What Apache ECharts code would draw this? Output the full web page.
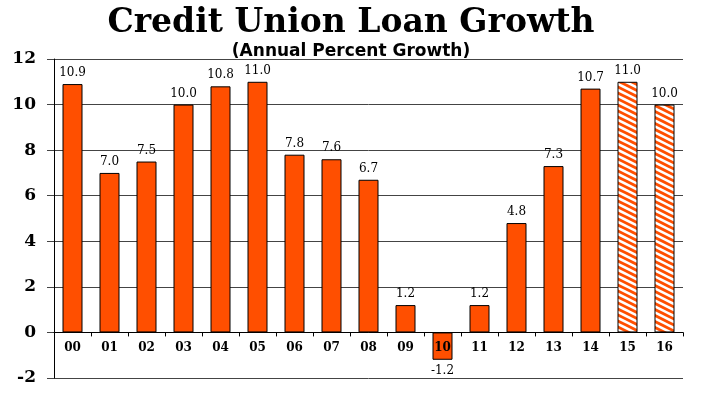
<!DOCTYPE html>
<html>
<head>
<meta charset="utf-8">
<script src="https://cdn.jsdelivr.net/npm/echarts@6/dist/echarts.min.js"></script>
<style>html,body{margin:0;padding:0;background:#fff}#c{width:702px;height:395px}</style>
</head>
<body>
<div id="c"></div>
<script>
var categories = ['00','01','02','03','04','05','06','07','08','09','10','11','12','13','14','15','16'];
var values = [10.9, 7.0, 7.5, 10.0, 10.8, 11.0, 7.8, 7.6, 6.7, 1.2, -1.2, 1.2, 4.8, 7.3, 10.7, 11.0, 10.0];
var forecast = [false,false,false,false,false,false,false,false,false,false,false,false,false,false,false,true,true];
var yTicks = [-2, 0, 2, 4, 6, 8, 10, 12];

var ORANGE = '#ff4f00';

function makePattern() {
  var w = 24, h = 12;
  var c = document.createElement('canvas');
  c.width = w; c.height = h;
  var g = c.getContext('2d');
  g.fillStyle = '#fff';
  g.fillRect(0, 0, w, h);
  g.strokeStyle = ORANGE;
  g.lineWidth = 2.9;
  for (var k = -24; k <= 24; k += 6) {
    g.beginPath();
    g.moveTo(-w, k - h);
    g.lineTo(2 * w, k + 2 * h);
    g.stroke();
  }
  return c;
}
var pat = { image: makePattern(), repeat: 'repeat' };

var data = values.map(function (v, i) {
  return {
    value: v,
    itemStyle: { color: forecast[i] ? pat : ORANGE },
    label: { position: v < 0 ? 'bottom' : 'top' }
  };
});

var chart = echarts.init(document.getElementById('c'), null, { renderer: 'canvas' });
var option = {
  animation: false,
  backgroundColor: '#fff',
  title: [{
    text: 'Credit Union Loan Growth',
    left: 'center', top: 2,
    textStyle: { fontFamily: 'DejaVu Serif', fontWeight: 'bold', fontSize: 33, color: '#000' }
  }, {
    text: '(Annual Percent Growth)',
    left: 'center', top: 38,
    textStyle: { fontFamily: 'DejaVu Sans', fontWeight: 'bold', fontSize: 17, color: '#000' }
  }],
  grid: { left: 54, right: 19, top: 59, bottom: 17, containLabel: false, outerBoundsMode: 'none' },
  xAxis: {
    type: 'category',
    data: categories,
    offset: 0,
    z: 5,
    axisLine: { onZero: false, lineStyle: { color: '#000', width: 1 } },
    axisTick: { show: true, inside: false, length: 4, lineStyle: { color: '#000' } },
    axisLabel: { fontFamily: 'DejaVu Serif', fontWeight: 'bold', fontSize: 12, color: '#000', margin: 9 }
  },
  yAxis: {
    type: 'value',
    min: -2, max: 12, interval: 2,
    axisLine: { show: true, lineStyle: { color: '#000', width: 1 } },
    axisTick: { show: true, length: 7, lineStyle: { color: '#444' } },
    splitLine: { show: true, lineStyle: { color: '#444', width: 1 } },
    axisLabel: {
      fontFamily: 'DejaVu Serif', fontWeight: 'bold', fontSize: 17, color: '#000', margin: 18,
      formatter: function (v) { return yTicks.indexOf(v) >= 0 ? String(v) : ''; }
    }
  },
  series: [{
    type: 'bar',
    data: data,
    barWidth: 20,
    z: 2,
    itemStyle: { borderColor: '#000', borderWidth: 1 },
    label: {
      show: true,
      fontFamily: 'DejaVu Serif', fontSize: 12, color: '#000', distance: 5,
      formatter: function (p) { return p.value.toFixed(1); }
    }
  }]
};
chart.setOption(option);
var zeroY = chart.convertToPixel({ yAxisIndex: 0 }, 0);
var minY = chart.convertToPixel({ yAxisIndex: 0 }, -2);
chart.setOption({ xAxis: { offset: zeroY - minY } });
</script>
</body>
</html>
